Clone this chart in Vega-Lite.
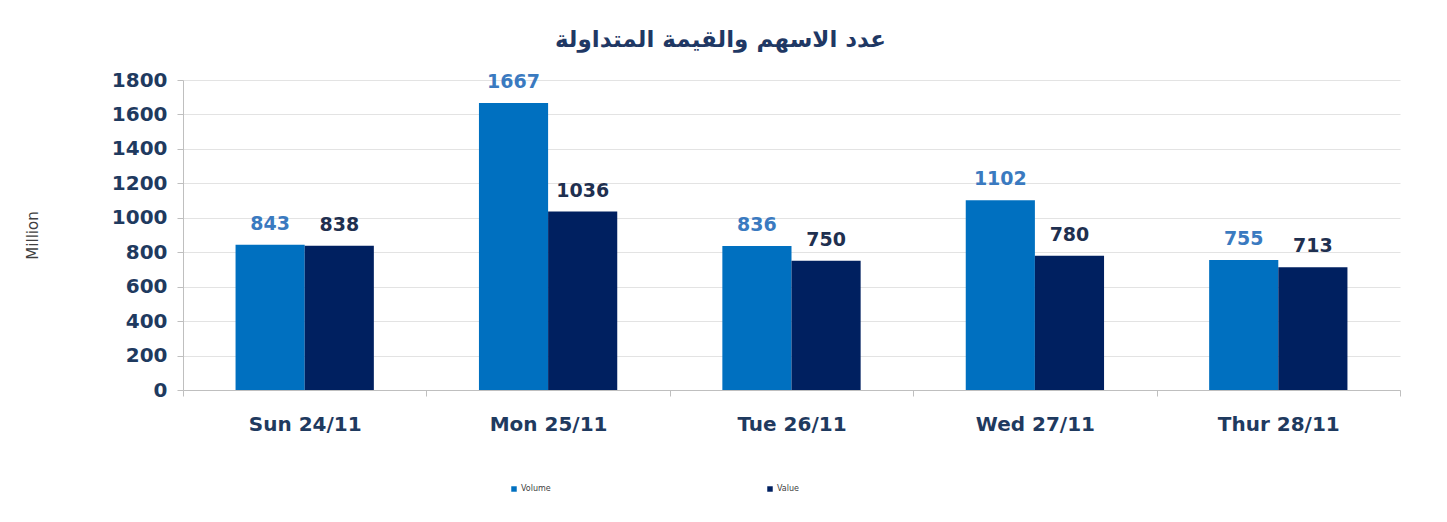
{
  "$schema": "https://vega.github.io/schema/vega-lite/v6.json",
  "autosize": {"type": "none"},
  "width": 1217,
  "height": 310,
  "padding": {"left": 183, "top": 80, "right": 47, "bottom": 132},
  "background": "white",
  "title": {
    "text": "عدد الاسهم والقيمة المتداولة",
    "font": "DejaVu Sans",
    "fontSize": 23,
    "fontWeight": "bold",
    "color": "#1F3864",
    "anchor": "middle",
    "dx": -71,
    "offset": 18
  },
  "config": {
    "view": {"stroke": null},
    "font": "DejaVu Sans"
  },
  "data": {
    "values": [
      {"day": "Sun 24/11", "series": "Volume", "amount": 843},
      {"day": "Sun 24/11", "series": "Value", "amount": 838},
      {"day": "Mon 25/11", "series": "Volume", "amount": 1667},
      {"day": "Mon 25/11", "series": "Value", "amount": 1036},
      {"day": "Tue 26/11", "series": "Volume", "amount": 836},
      {"day": "Tue 26/11", "series": "Value", "amount": 750},
      {"day": "Wed 27/11", "series": "Volume", "amount": 1102},
      {"day": "Wed 27/11", "series": "Value", "amount": 780},
      {"day": "Thur 28/11", "series": "Volume", "amount": 755},
      {"day": "Thur 28/11", "series": "Value", "amount": 713}
    ]
  },
  "encoding": {
    "x": {
      "field": "day",
      "type": "nominal",
      "sort": null,
      "scale": {"paddingInner": 0, "paddingOuter": 0},
      "axis": {
        "title": null,
        "labelAngle": 0,
        "labelFont": "DejaVu Sans",
        "labelFontSize": 20,
        "labelFontWeight": "bold",
        "labelColor": "#1F3A5F",
        "tickBand": "extent",
        "tickSize": 6,
        "tickColor": "#BFBFBF",
        "domainColor": "#BFBFBF",
        "labelPadding": 18,
        "grid": false
      }
    },
    "xOffset": {
      "field": "series",
      "type": "nominal",
      "sort": ["Volume", "Value"],
      "scale": {"paddingInner": 0, "paddingOuter": 0.76}
    },
    "y": {
      "field": "amount",
      "type": "quantitative",
      "scale": {"domain": [0, 1800]},
      "axis": {
        "title": "Million",
        "titleFont": "DejaVu Sans",
        "titleFontSize": 15,
        "titleFontWeight": "normal",
        "titleColor": "#404040",
        "titleX": -143,
        "values": [0, 200, 400, 600, 800, 1000, 1200, 1400, 1600, 1800],
        "format": "d",
        "labelFont": "DejaVu Sans",
        "labelFontSize": 20,
        "labelFontWeight": "bold",
        "labelColor": "#1F3A5F",
        "labelPadding": 10,
        "tickSize": 6,
        "tickColor": "#BFBFBF",
        "domainColor": "#BFBFBF",
        "gridColor": "#E3E3E3"
      }
    }
  },
  "layer": [
    {
      "mark": {"type": "bar"},
      "encoding": {
        "color": {
          "field": "series",
          "type": "nominal",
          "sort": ["Volume", "Value"],
          "scale": {"domain": ["Volume", "Value"], "range": ["#0070C0", "#002060"]},
          "legend": {
            "title": null,
            "orient": "none",
            "legendX": 327,
            "legendY": 405,
            "direction": "horizontal",
            "symbolType": "square",
            "symbolSize": 30,
            "labelFontSize": 8,
            "labelColor": "#404040",
            "labelOffset": 3,
            "columnPadding": 215
          }
        }
      }
    },
    {
      "mark": {"type": "text", "baseline": "bottom", "dy": -11, "fontSize": 19, "fontWeight": "bold", "font": "DejaVu Sans"},
      "encoding": {
        "text": {"field": "amount", "type": "quantitative"},
        "color": {
          "field": "series",
          "type": "nominal",
          "scale": {"domain": ["Volume", "Value"], "range": ["#3A7AC0", "#1F3050"]},
          "legend": null
        }
      }
    }
  ],
  "resolve": {"scale": {"color": "independent"}}
}
